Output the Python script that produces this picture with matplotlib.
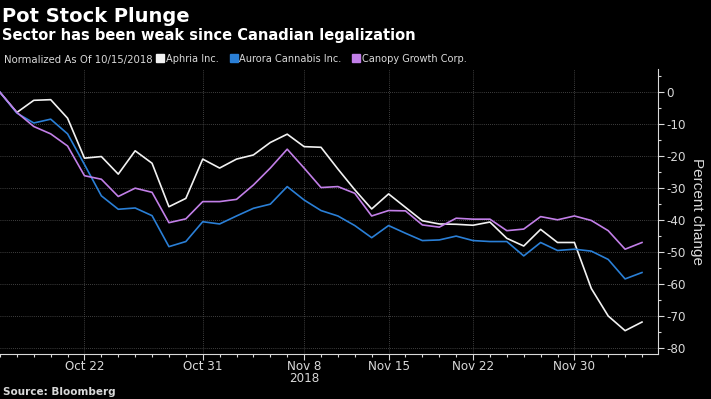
import matplotlib
matplotlib.use('Agg')
import matplotlib.pyplot as plt
from matplotlib.lines import Line2D
from matplotlib.ticker import MultipleLocator, FixedLocator
from matplotlib.font_manager import FontProperties
import pandas as pd

# trading days, normalized to 10/15/2018
dates = pd.bdate_range('2018-10-15', '2018-12-06')

aphria = [0, -6.3, -2.5, -2.3, -8.1, -20.6, -20.1, -25.6, -18.3, -22.2,
          -35.8, -33.2, -20.9, -23.7, -20.9, -19.6, -15.7, -13.1, -17.0, -17.2,
          -24.0, -30.5, -36.5, -31.8, -36.0, -40.2, -41.2, -41.3, -41.6, -40.6,
          -45.7, -48.1, -42.9, -47.0, -47.0, -61.4, -70.0, -74.6, -71.9]
aurora = [0, -6.5, -9.6, -8.4, -13.0, -22.6, -32.4, -36.6, -36.2, -38.6,
          -48.3, -46.7, -40.5, -41.2, -38.7, -36.3, -35.0, -29.5, -33.7, -37.0,
          -38.7, -41.7, -45.5, -41.7, -44.1, -46.4, -46.2, -45.0, -46.4, -46.7,
          -46.7, -51.2, -47.0, -49.5, -49.1, -49.7, -52.3, -58.4, -56.4]
canopy = [0, -6.3, -10.7, -13.0, -16.8, -26.1, -27.2, -32.6, -30.0, -31.3,
          -40.8, -39.6, -34.2, -34.2, -33.5, -29.0, -23.7, -17.8, -23.7, -29.8,
          -29.5, -31.6, -38.7, -37.0, -37.1, -41.5, -42.2, -39.4, -39.7, -39.7,
          -43.3, -42.8, -38.9, -39.9, -38.7, -40.1, -43.3, -49.1, -47.0]

series_names = ['Aphria Inc.', 'Aurora Cannabis Inc.', 'Canopy Growth Corp.']
series_colors = ['#f2f2f2', '#2a7fd6', '#c27fe8']

tick_dates = ['2018-10-22', '2018-10-31', '2018-11-08', '2018-11-15',
              '2018-11-22', '2018-11-30']
tick_labels = ['Oct 22', 'Oct 31', 'Nov 8', 'Nov 15', 'Nov 22', 'Nov 30']

fg = '#d9d9d9'

def cond(size):
    return FontProperties(family='DejaVu Sans', stretch='condensed', size=size)

fig = plt.figure(figsize=(7.11, 3.99), dpi=100, facecolor='black')
ax = fig.add_axes([0, 45 / 399, 657.7 / 711, 285 / 399], facecolor='black')

x = list(range(len(dates)))
for vals, c in zip([aphria, aurora, canopy], series_colors):
    ax.plot(x, vals, color=c, lw=1.2)

ax.set_xlim(0, 38.93)
ax.set_ylim(-81.9, 7.3)

ax.yaxis.tick_right()
ax.yaxis.set_minor_locator(MultipleLocator(5))
ax.set_yticks(range(-80, 1, 10))
ax.set_yticklabels([str(v) for v in range(-80, 1, 10)])

pos = [list(dates).index(pd.Timestamp(d)) for d in tick_dates]
ax.set_xticks(pos)
ax.set_xticklabels(tick_labels)
ax.xaxis.set_minor_locator(FixedLocator(x))

ax.tick_params(colors=fg, length=4, width=0.8)
ax.tick_params(which='minor', colors=fg, length=2, width=0.8)
ax.tick_params(axis='x', pad=0)
ax.tick_params(axis='y', pad=2)
for lab in ax.get_xticklabels() + ax.get_yticklabels():
    lab.set_fontproperties(cond(9.5))
    lab.set_color(fg)

ax.grid(True, color='#555555', ls=(0, (1, 1.5)), lw=0.6)
ax.set_axisbelow(True)
for s in ['top', 'left']:
    ax.spines[s].set_visible(False)
for s in ['right', 'bottom']:
    ax.spines[s].set_color(fg)
    ax.spines[s].set_linewidth(0.8)

ax.text(pos[2], -0.085, '2018', transform=ax.get_xaxis_transform(),
        ha='center', va='center', color=fg, fontproperties=cond(9.5))

fig.text(697 / 711, 1 - 211 / 399, 'Percent change', rotation=270,
         ha='center', va='center', color=fg, fontsize=11,
         family=['Liberation Sans', 'DejaVu Sans'])

fig.text(2 / 711, 1 - 22 / 399, 'Pot Stock Plunge', color='white',
         fontsize=14, fontweight='bold', va='baseline')
fig.text(2 / 711, 1 - 40 / 399, 'Sector has been weak since Canadian legalization',
         color='white', fontsize=10.5, fontweight='bold', va='baseline')
fig.text(4 / 711, 1 - 63 / 399, 'Normalized As Of 10/15/2018', color=fg,
         fontproperties=cond(8.1), va='baseline')
fig.text(3 / 711, 1 - 395 / 399, 'Source: Bloomberg', color=fg,
         fontsize=7.5, fontweight='bold', va='baseline')

handles = [Line2D([], [], marker='s', ls='', color=c, markersize=5.5)
           for c in series_colors]
fig.legend(handles, series_names, loc='center left',
           bbox_to_anchor=(157 / 711, 1 - 59 / 399), ncol=3, frameon=False,
           handlelength=0.6, handletextpad=0.2, columnspacing=1.1,
           labelcolor=fg, prop=cond(7.8),
           borderaxespad=0, borderpad=0)

fig.savefig('out.png', dpi=100, facecolor='black')
